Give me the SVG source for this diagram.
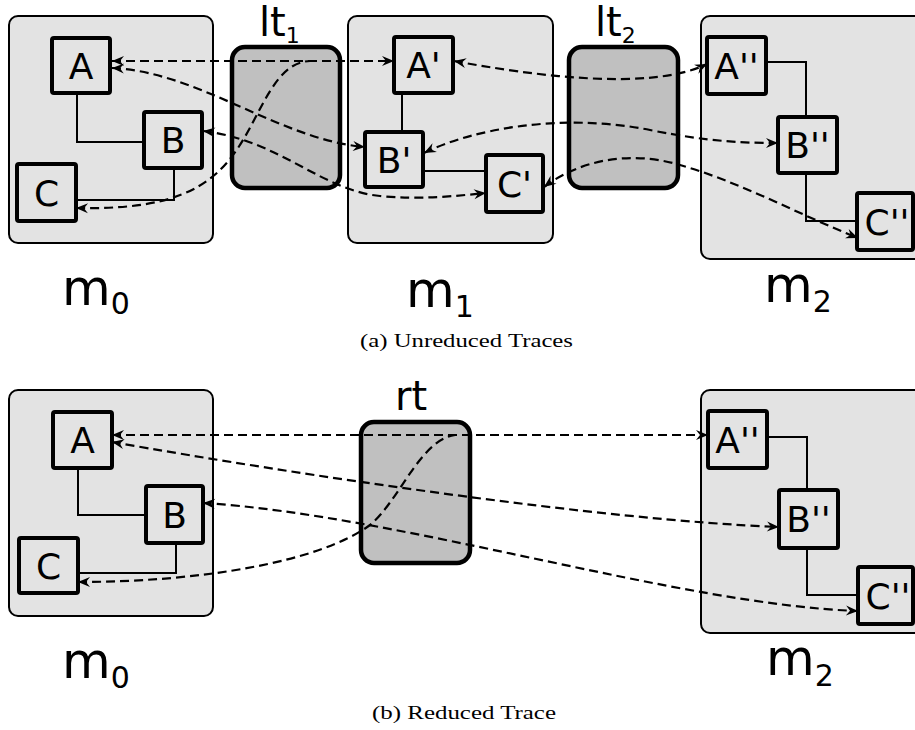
<svg xmlns="http://www.w3.org/2000/svg" width="915" height="730" viewBox="0 0 915 730">
<defs>
<marker id="arr" viewBox="-13 -6 14 12" refX="0" refY="0" markerWidth="14" markerHeight="12" markerUnits="userSpaceOnUse" orient="auto-start-reverse">
<path d="M0,0 L-12,-5 L-8,0 L-12,5 Z" fill="#000"/>
</marker>
<style>
.panel{fill:#e3e3e3;stroke:#000;stroke-width:2}
.trace{fill:#c0c0c0;stroke:#000;stroke-width:4.5}
.node rect{fill:#e3e3e3;stroke:#000;stroke-width:4}
.node text{font-family:"DejaVu Sans",sans-serif;font-size:36px;text-anchor:middle;fill:#000}
.lbl{font-family:"DejaVu Sans",sans-serif;font-size:50px;fill:#000}
.tl{font-family:"DejaVu Sans",sans-serif;font-size:40px;fill:#000}
.sub{font-size:30px}
.tsub{font-size:22px}
.cap{font-family:"Liberation Serif",serif;font-size:19px;fill:#000}
.solid{fill:none;stroke:#000;stroke-width:2}
.dash{fill:none;stroke:#000;stroke-width:2.2;stroke-dasharray:9 5;marker-start:url(#arr);marker-end:url(#arr)}
.dash1{fill:none;stroke:#000;stroke-width:2.2;stroke-dasharray:9 5;marker-start:url(#arr)}
</style>
</defs>
<rect width="915" height="730" fill="#fff"/>

<!-- top panel: models -->
<g id="m0a"><rect class="panel" x="9" y="16" width="204" height="227" rx="9"/></g>
<g id="m1a"><rect class="panel" x="348" y="16" width="205" height="227" rx="9"/></g>
<g id="m2a"><rect class="panel" x="701" y="16" width="240" height="243" rx="9"/></g>
<g id="lt1"><rect class="trace" x="232" y="47" width="108" height="141" rx="13"/>
<text class="tl" x="259" y="36">lt<tspan class="tsub" dy="7">1</tspan></text></g>
<g id="lt2"><rect class="trace" x="569" y="47" width="109" height="141" rx="13"/>
<text class="tl" x="595" y="36">lt<tspan class="tsub" dy="7">2</tspan></text></g>

<!-- bottom panel -->
<g id="m0b"><rect class="panel" x="9" y="390" width="204" height="226" rx="9"/></g>
<g id="m2b"><rect class="panel" x="701" y="390" width="240" height="243" rx="9"/></g>
<g id="rt"><rect class="trace" x="361" y="422" width="109" height="141" rx="13"/>
<text class="tl" x="395" y="410">rt</text></g>

<g id="connectors">
<!-- internal structure, top -->
<path class="solid" d="M77 93 V142 H144"/>
<path class="solid" d="M174 168 V200 H76"/>
<path class="solid" d="M402 93 V132"/>
<path class="solid" d="M423 171 H486"/>
<path class="solid" d="M766 62 H806 V117"/>
<path class="solid" d="M806 173 V221 H857"/>
<!-- internal structure, bottom -->
<path class="solid" d="M78 468 V515 H146"/>
<path class="solid" d="M176 543 V573 H78"/>
<path class="solid" d="M767 437 H807 V490"/>
<path class="solid" d="M807 548 V595 H858"/>
<!-- trace links, top -->
<path class="dash" d="M112 61 L394 61"/>
<path class="dash1" d="M76 208 C170 210 210 190 238 148 C262 112 275 62 310 61"/>
<path class="dash" d="M112 68 C200 72 280 140 365 147"/>
<path class="dash" d="M203 131 C280 140 320 190 380 196 C420 200 455 196 486 193"/>
<path class="dash" d="M454 61 C530 75 650 92 707 64"/>
<path class="dash" d="M424 153 C470 130 560 112 650 130 C710 142 745 143 778 143"/>
<path class="dash" d="M544 187 C580 160 630 150 680 165 C740 182 800 215 858 238"/>
<!-- trace links, bottom -->
<path class="dash" d="M112 435 L708 435"/>
<path class="dash1" d="M78 582 C200 582 320 562 370 525 C400 500 420 440 455 435"/>
<path class="dash" d="M112 442 C300 475 600 520 779 527"/>
<path class="dash" d="M203 503 C400 515 680 605 858 611"/>
</g>

<!-- nodes top -->
<g id="A0" class="node"><rect x="52" y="38" width="58" height="55" rx="2"/><text x="81" y="78.5">A</text></g>
<g id="B0" class="node"><rect x="144" y="112" width="58" height="56" rx="2"/><text x="173" y="153">B</text></g>
<g id="C0" class="node"><rect x="17" y="164" width="59" height="57" rx="2"/><text x="46.5" y="205.5">C</text></g>
<g id="A1" class="node"><rect x="394" y="37" width="59" height="56" rx="2"/><text x="423.5" y="78">A'</text></g>
<g id="B1" class="node"><rect x="365" y="132" width="58" height="55" rx="2"/><text x="394" y="172.5">B'</text></g>
<g id="C1" class="node"><rect x="486" y="155" width="57" height="57" rx="2"/><text x="514.5" y="196.5">C'</text></g>
<g id="A2" class="node"><rect x="707" y="37" width="59" height="57" rx="2"/><text x="736.5" y="78.5">A''</text></g>
<g id="B2" class="node"><rect x="778" y="117" width="59" height="56" rx="2"/><text x="807.5" y="158">B''</text></g>
<g id="C2" class="node"><rect x="857" y="193" width="56" height="57" rx="2"/><text x="887" y="234.5">C''</text></g>

<!-- nodes bottom -->
<g id="A0b" class="node"><rect x="53" y="412" width="59" height="56" rx="2"/><text x="82.5" y="453">A</text></g>
<g id="B0b" class="node"><rect x="146" y="486" width="57" height="57" rx="2"/><text x="174.5" y="527.5">B</text></g>
<g id="C0b" class="node"><rect x="19" y="538" width="59" height="55" rx="2"/><text x="48.5" y="578.5">C</text></g>
<g id="A2b" class="node"><rect x="708" y="411" width="59" height="57" rx="2"/><text x="737.5" y="452.5">A''</text></g>
<g id="B2b" class="node"><rect x="779" y="490" width="59" height="58" rx="2"/><text x="808.5" y="532">B''</text></g>
<g id="C2b" class="node"><rect x="858" y="567" width="55" height="57" rx="2"/><text x="888" y="608.5">C''</text></g>

<!-- model labels -->
<text class="lbl" x="62" y="305">m<tspan class="sub" dy="9">0</tspan></text>
<text class="lbl" x="406" y="307">m<tspan class="sub" dy="10">1</tspan></text>
<text class="lbl" x="764" y="302">m<tspan class="sub" dy="10">2</tspan></text>
<text class="lbl" x="62" y="678">m<tspan class="sub" dy="10">0</tspan></text>
<text class="lbl" x="766" y="675">m<tspan class="sub" dy="11">2</tspan></text>

<!-- captions -->
<text class="cap" x="360" y="347" textLength="213" lengthAdjust="spacingAndGlyphs">(a) Unreduced Traces</text>
<text class="cap" x="372" y="719" textLength="184" lengthAdjust="spacingAndGlyphs">(b) Reduced Trace</text>
</svg>
